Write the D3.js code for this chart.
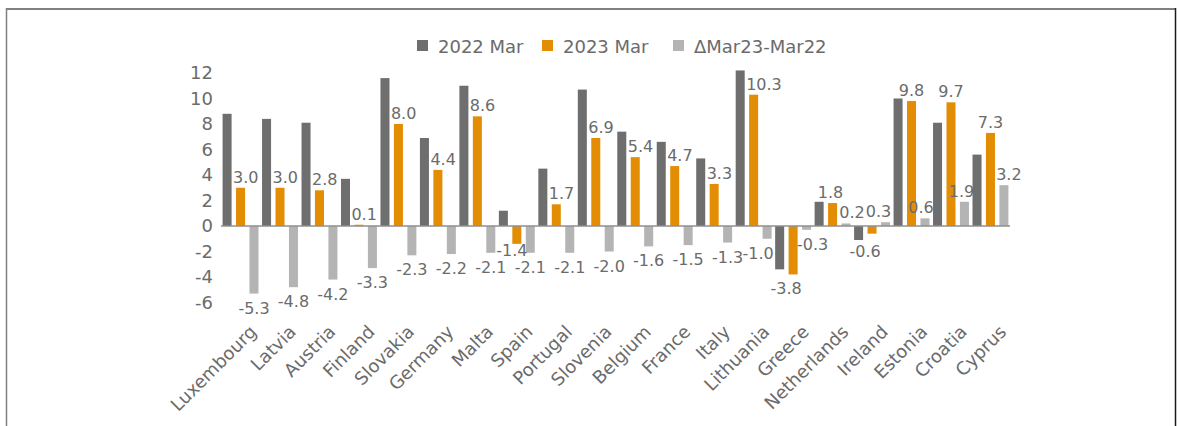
<!DOCTYPE html>
<html>
<head>
<meta charset="utf-8">
<script src="https://cdn.jsdelivr.net/npm/d3@7"></script>
<style>
    body { margin: 0; background: #fff; }
    #chart { width: 1177px; height: 426px; }
    text { font-family: "DejaVu Sans", Verdana, sans-serif; fill: #6b6b6b; }
</style>
</head>
<body>
<div id="chart"></div>
<script>
var countries = ["Luxembourg", "Latvia", "Austria", "Finland", "Slovakia", "Germany", "Malta", "Spain",
    "Portugal", "Slovenia", "Belgium", "France", "Italy", "Lithuania", "Greece", "Netherlands",
    "Ireland", "Estonia", "Croatia", "Cyprus"];
var seriesNames = ["2022 Mar", "2023 Mar", "\u0394Mar23-Mar22"];
var mar22 = [8.8, 8.4, 8.1, 3.7, 11.6, 6.9, 11.0, 1.2, 4.5, 10.7, 7.4, 6.6, 5.3, 12.2, -3.4, 1.9, -1.1, 10.0, 8.1, 5.6];
var mar23 = [3.0, 3.0, 2.8, 0.1, 8.0, 4.4, 8.6, -1.4, 1.7, 6.9, 5.4, 4.7, 3.3, 10.3, -3.8, 1.8, -0.6, 9.8, 9.7, 7.3];
var delta = [-5.3, -4.8, -4.2, -3.3, -2.3, -2.2, -2.1, -2.1, -2.1, -2.0, -1.6, -1.5, -1.3, -1.0, -0.3, 0.2, 0.3, 0.6, 1.9, 3.2];
var yTicks = [-6, -4, -2, 0, 2, 4, 6, 8, 10, 12];

var draw_chart = {
    width: 1177,
    height: 426,
    svg: 0,

    initialize: function() {
        var self = this;
        self.svg = d3.select("#chart").append("svg")
            .attr("width", self.width)
            .attr("height", self.height);
        self.draw();
    },

    draw: function() {
        var self = this;
        var colors = ["#6e6e6e", "#e38d04", "#b4b4b4"];
        var values = [mar22, mar23, delta];
        var labelled = [false, true, true];
        // hand nudges for labels that would sit on a neighbour (dx, dy)
        var nudge = {
            "Spain|1": [-5, -8], "Lithuania|2": [-9, 0], "Greece|1": [-7, 0], "Greece|2": [6, 0],
            "Netherlands|1": [-2, 0], "Netherlands|2": [6, 0], "Ireland|1": [-7, 3], "Ireland|2": [-7, 0],
            "Estonia|2": [-4, 0], "Croatia|2": [-3, 0], "Cyprus|2": [5, 0]
        };
        var loc = d3.formatLocale({ decimal: ".", thousands: ",", grouping: [3], currency: ["", ""], minus: "-" });
        var fmt1 = loc.format(".1f");

        // frame round the chart
        self.svg.append("line").attr("x1", 6).attr("x2", 1176).attr("y1", 9).attr("y2", 9)
            .attr("stroke", "#808080").attr("stroke-width", 2);
        self.svg.append("line").attr("x1", 6.5).attr("x2", 6.5).attr("y1", 8).attr("y2", 426)
            .attr("stroke", "#808080").attr("stroke-width", 1.5);
        self.svg.append("line").attr("x1", 1175.5).attr("x2", 1175.5).attr("y1", 8).attr("y2", 426)
            .attr("stroke", "#1a1a1a").attr("stroke-width", 1.5);

        var x0 = d3.scaleBand().domain(countries).range([221, 1010]).paddingInner(0.09).paddingOuter(0.04);
        var x1 = d3.scaleBand().domain([0, 1, 2]).range([0, x0.bandwidth()]).paddingInner(0.33);
        var y = d3.scaleLinear().domain([-6, 12]).range([302.5, 73]);

        var yAxis = d3.axisLeft(y).tickValues(yTicks).tickSize(0).tickPadding(0).tickFormat(loc.format("d"));
        var gy = self.svg.append("g")
            .attr("transform", "translate(213,0)")
            .call(yAxis);
        gy.select(".domain").remove();
        gy.selectAll("text").style("font-size", "18px").attr("fill", "#6b6b6b");

        // bars
        var groups = self.svg.selectAll(".group")
            .data(countries)
            .enter().append("g")
            .attr("class", "group")
            .attr("transform", function(d) { return "translate(" + x0(d) + ",0)"; });

        values.forEach(function(arr, s) {
            groups.append("rect")
                .attr("x", x1(s))
                .attr("width", x1.bandwidth())
                .attr("y", function(d, i) { return y(Math.max(0, arr[i])); })
                .attr("height", function(d, i) { return Math.abs(y(arr[i]) - y(0)); })
                .attr("fill", colors[s]);
        });

        // zero line
        self.svg.append("line")
            .attr("x1", 221).attr("x2", 1010)
            .attr("y1", y(0)).attr("y2", y(0))
            .attr("stroke", "#8f8f8f").attr("stroke-width", 1.5);

        // data labels, drawn after all bars so no bar covers them
        var labelLayer = self.svg.append("g");
        values.forEach(function(arr, s) {
            if (!labelled[s]) return;
            labelLayer.selectAll(".lab" + s)
                .data(countries)
                .enter().append("text")
                .attr("class", "lab" + s)
                .each(function(d, i) {
                    var v = arr[i];
                    var ty = v >= 0 ? y(v) - 5 : y(v) + 20;
                    var tx = x0(d) + x1(s) + x1.bandwidth() / 2;
                    var anchor = "middle";
                    // a 2023 label that would fall on a taller 2022 bar starts at the bar's left edge
                    if (s === 1 && v >= 0 && ty > y(mar22[i])) {
                        tx = x0(d) + x1(s) - 3;
                        anchor = "start";
                    }
                    var n = nudge[d + "|" + s] || [0, 0];
                    d3.select(this)
                        .attr("x", tx + n[0])
                        .attr("y", ty + n[1])
                        .attr("text-anchor", anchor);
                })
                .style("font-size", "16px")
                .text(function(d, i) { return fmt1(arr[i]); });
        });

        // category labels
        self.svg.selectAll(".cat")
            .data(countries)
            .enter().append("text")
            .attr("class", "cat")
            .attr("text-anchor", "end")
            .style("font-size", "18px")
            .attr("transform", function(d) {
                return "translate(" + (x0(d) + x0.bandwidth() / 2 + 17) + ",333) rotate(-45)";
            })
            .text(function(d) { return d; });

        // legend
        var legendX = [417, 542, 673];
        var legend = self.svg.selectAll(".legend")
            .data(seriesNames)
            .enter().append("g")
            .attr("class", "legend")
            .attr("transform", function(d, i) { return "translate(" + legendX[i] + ",0)"; });
        legend.append("rect")
            .attr("x", 0).attr("y", 40)
            .attr("width", 11).attr("height", 11)
            .attr("fill", function(d, i) { return colors[i]; });
        legend.append("text")
            .attr("x", 21).attr("y", 52.5)
            .style("font-size", "18px")
            .text(function(d) { return d; });
    }
};

draw_chart.initialize();
</script>
</body>
</html>
